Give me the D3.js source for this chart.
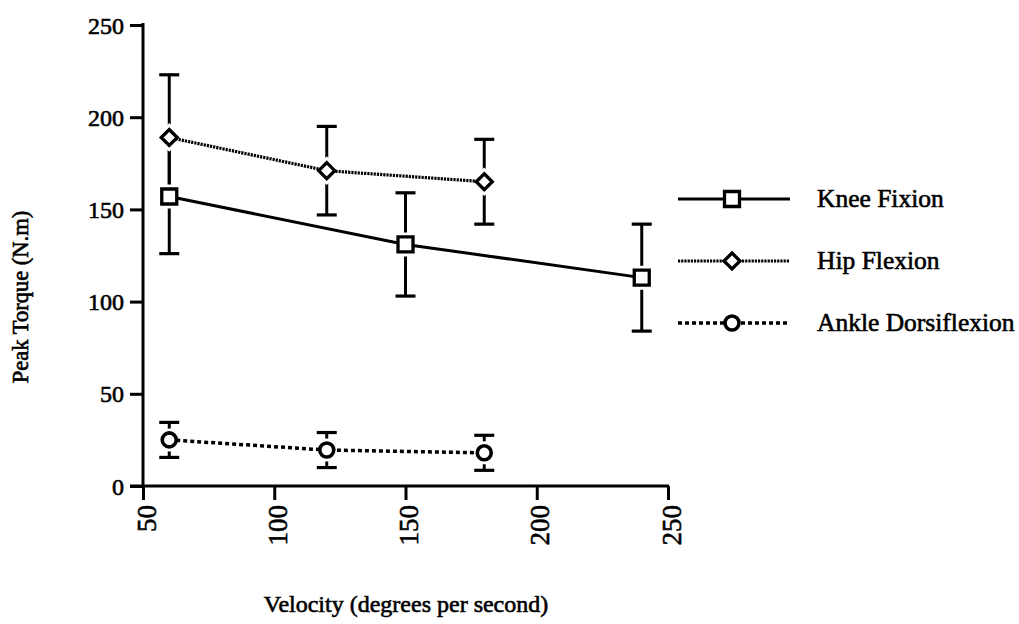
<!DOCTYPE html>
<html>
<head>
<meta charset="utf-8">
<script src="https://cdn.jsdelivr.net/npm/d3@7"></script>
<style>
  html, body { margin: 0; padding: 0; background: #fff; }
  svg { display: block; }
  text { font-family: "Liberation Serif", "Times New Roman", serif; fill: #000; stroke: #000; stroke-width: 0.6px; }
</style>
</head>
<body>
<svg id="chart" width="1019" height="624"></svg>
<script>
// ---- data ----
const seriesNames = ["Knee Fixion", "Hip Flexion", "Ankle Dorsiflexion"];
const kneeX = [60, 150, 240];
const kneeMean = [157, 131, 113];
const kneeErr = [31, 28, 29];
const hipX = [60, 120, 180];
const hipMean = [189, 171, 165];
const hipErr = [34, 24, 23];
const ankleX = [60, 120, 180];
const ankleMean = [25, 19.5, 18];
const ankleErr = [9.5, 9.5, 9.5];
const xTicks = [50, 100, 150, 200, 250];
const yTicks = [0, 50, 100, 150, 200, 250];
const xTitle = "Velocity (degrees per second)";
const yTitle = "Peak Torque (N.m)";

// ---- layout ----
const svg = d3.select("#chart");
const x = d3.scaleLinear().domain([50, 250]).range([143, 668]);
const y = d3.scaleLinear().domain([0, 250]).range([486, 25]);

const series = [
  {name: seriesNames[0], xs: kneeX, m: kneeMean, e: kneeErr, shape: "square", dash: null, width: 3},
  {name: seriesNames[1], xs: hipX, m: hipMean, e: hipErr, shape: "diamond", dash: "2.2,1", width: 3.2},
  {name: seriesNames[2], xs: ankleX, m: ankleMean, e: ankleErr, shape: "circle", dash: "4,3", width: 3.5}
];
series.forEach(s => { s.pts = s.xs.map((v, i) => ({x: v, m: s.m[i], e: s.e[i]})); });

// ---- axes ----
const yAxis = d3.axisLeft(y).tickValues(yTicks).tickSize(13).tickPadding(6).tickFormat(d3.format("d"));
const gy = svg.append("g").attr("transform", `translate(${x(50)},0)`).call(yAxis);
gy.select(".domain").attr("d", `M0,${y(250) - 2}V${y(0)}`).attr("stroke", "#000").attr("stroke-width", 3).attr("fill", "none");
gy.selectAll(".tick line").attr("stroke", "#000").attr("stroke-width", 3);
gy.selectAll(".tick text").attr("font-size", 24).attr("font-family", "Liberation Serif").attr("dy", "0.34em");

const xAxis = d3.axisBottom(x).tickValues(xTicks).tickSize(14).tickPadding(8).tickFormat(d3.format("d"));
const gx = svg.append("g").attr("transform", `translate(0,${y(0)})`).call(xAxis);
gx.select(".domain").attr("d", `M${x(50) - 13},0H${x(250) + 1}`).attr("stroke", "#000").attr("stroke-width", 3).attr("fill", "none");
gx.selectAll(".tick line").attr("stroke", "#000").attr("stroke-width", 3);
gx.selectAll(".tick text")
  .attr("font-size", 27)
  .attr("font-family", "Liberation Serif")
  .attr("text-anchor", "end")
  .attr("transform", "rotate(-90)")
  .attr("x", -19)
  .attr("y", 3)
  .attr("dy", "0.34em");

// ---- titles ----
svg.append("text").attr("x", 406).attr("y", 612).attr("text-anchor", "middle")
  .attr("font-size", 24).text(xTitle);
svg.append("text").attr("transform", `translate(28,${297}) rotate(-90)`).attr("text-anchor", "middle")
  .attr("font-size", 22.5).text(yTitle);

// ---- marker helpers ----
function markerPath(shape, size) {
  if (shape === "square") return `M${-size},${-size}H${size}V${size}H${-size}Z`;
  return `M0,${-size}L${size},0L0,${size}L${-size},0Z`;
}
function drawMarker(g, shape, cx, cy, halo) {
  const col = halo ? "#fff" : "#000";
  if (shape === "circle") {
    g.append("circle").attr("cx", cx).attr("cy", cy).attr("r", 7)
      .attr("fill", "#fff").attr("stroke", col).attr("stroke-width", halo ? 9 : 3.6);
  } else {
    const size = shape === "square" ? 7.5 : 8;
    g.append("path").attr("d", markerPath(shape, size))
      .attr("transform", `translate(${cx},${cy})`)
      .attr("fill", "#fff").attr("stroke", col).attr("stroke-width", halo ? 9 : 3.3)
      .attr("stroke-linejoin", "miter");
  }
}

// ---- error bars ----
const gErr = svg.append("g");
series.forEach(s => {
  s.pts.forEach(p => {
    const cx = x(p.x);
    gErr.append("line").attr("x1", cx).attr("x2", cx).attr("y1", y(p.m - p.e)).attr("y2", y(p.m + p.e))
      .attr("stroke", "#000").attr("stroke-width", 3);
    [p.m - p.e, p.m + p.e].forEach(v => {
      gErr.append("line").attr("x1", cx - 10).attr("x2", cx + 10).attr("y1", y(v)).attr("y2", y(v))
        .attr("stroke", "#000").attr("stroke-width", 3.2);
    });
  });
});

// ---- halos ----
const gHalo = svg.append("g");
series.forEach(s => s.pts.forEach(p => drawMarker(gHalo, s.shape, x(p.x), y(p.m), true)));

// ---- lines ----
const line = d3.line().x(p => x(p.x)).y(p => y(p.m));
series.forEach(s => {
  svg.append("path").datum(s.pts).attr("d", line)
    .attr("fill", "none").attr("stroke", "#000").attr("stroke-width", s.width)
    .attr("stroke-dasharray", s.dash);
});

// ---- markers ----
const gMk = svg.append("g");
series.forEach(s => s.pts.forEach(p => drawMarker(gMk, s.shape, x(p.x), y(p.m), false)));

// ---- legend ----
const legendY = [199, 261, 323];
const lg = svg.append("g");
series.forEach((s, i) => {
  const ly = legendY[i];
  lg.append("line").attr("x1", 678).attr("x2", 790).attr("y1", ly).attr("y2", ly)
    .attr("stroke", "#000").attr("stroke-width", s.width).attr("stroke-dasharray", s.dash);
  drawMarker(lg, s.shape, 732, ly, false);
  lg.append("text").attr("x", 817).attr("y", ly).attr("dy", "0.33em")
    .attr("font-size", 25.5).text(s.name);
});
</script>
</body>
</html>
